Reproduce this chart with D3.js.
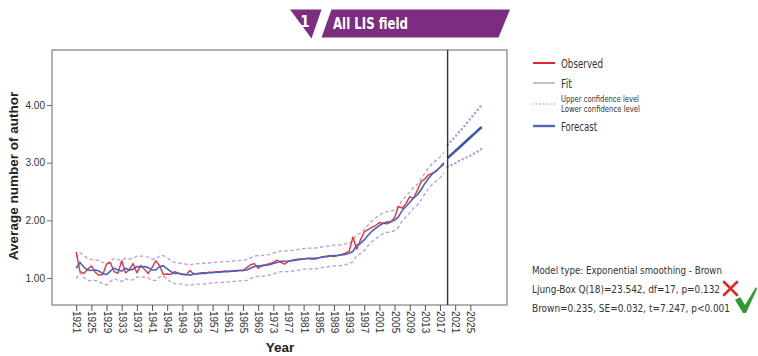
<!DOCTYPE html>
<html>
<head>
<meta charset="utf-8">
<script src="https://cdn.jsdelivr.net/npm/d3@7"></script>
<style>
  body { margin: 0; background: #fff; }
  svg { display: block; }
</style>
</head>
<body>
<svg id="chart" width="758" height="356"></svg>
<script>
// ---- Data: average number of authors per year, Brown exponential smoothing ----
const firstYear = 1921;
const observed = [
  1.45, 1.11, 1.08, 1.15, 1.21, 1.10, 1.05, 1.06, 1.24, 1.27,
  1.11, 1.08, 1.30, 1.09, 1.14, 1.25, 1.09, 1.22, 1.15, 1.08,
  1.18, 1.30, 1.21, 1.06, 1.07, 1.06, 1.11, 1.08, 1.06, 1.05,
  1.13, 1.07, 1.08, 1.09, 1.09, 1.10, 1.10, 1.11, 1.11, 1.12,
  1.12, 1.12, 1.13, 1.13, 1.13, 1.18, 1.23, 1.25, 1.17, 1.22,
  1.23, 1.25, 1.27, 1.31, 1.27, 1.24, 1.29, 1.31, 1.32, 1.33,
  1.33, 1.34, 1.33, 1.33, 1.35, 1.37, 1.38, 1.39, 1.37, 1.39,
  1.41, 1.43, 1.46, 1.71, 1.50, 1.66, 1.80, 1.84, 1.88, 1.91,
  1.96, 1.95, 1.94, 1.97, 2.05, 2.24, 2.21, 2.29, 2.41, 2.38,
  2.52, 2.67, 2.72, 2.79, 2.82, 2.85, 2.92, 2.97
];
const fit = [
  1.17, 1.27, 1.19, 1.14, 1.13, 1.14, 1.12, 1.08, 1.06, 1.12,
  1.17, 1.14, 1.12, 1.17, 1.14, 1.15, 1.20, 1.19, 1.20, 1.18,
  1.14, 1.14, 1.20, 1.21, 1.16, 1.11, 1.08, 1.08, 1.07, 1.06,
  1.05, 1.07, 1.07, 1.08, 1.08, 1.09, 1.09, 1.10, 1.10, 1.11,
  1.11, 1.12, 1.12, 1.13, 1.13, 1.14, 1.17, 1.20, 1.21, 1.21,
  1.22, 1.23, 1.25, 1.27, 1.29, 1.29, 1.29, 1.30, 1.31, 1.32,
  1.33, 1.34, 1.34, 1.34, 1.35, 1.36, 1.37, 1.38, 1.39, 1.39,
  1.40, 1.41, 1.43, 1.46, 1.57, 1.60, 1.66, 1.74, 1.81, 1.86,
  1.91, 1.95, 1.97, 1.98, 2.00, 2.06, 2.17, 2.24, 2.31, 2.39,
  2.44, 2.53, 2.64, 2.73, 2.81, 2.86, 2.92, 3.00
];
const upperFit = [
  1.35, 1.44, 1.39, 1.34, 1.32, 1.32, 1.30, 1.27, 1.25, 1.29,
  1.34, 1.32, 1.31, 1.34, 1.33, 1.34, 1.38, 1.38, 1.38, 1.36,
  1.33, 1.33, 1.38, 1.39, 1.35, 1.30, 1.27, 1.26, 1.25, 1.24,
  1.23, 1.24, 1.25, 1.25, 1.26, 1.26, 1.27, 1.27, 1.28, 1.28,
  1.29, 1.29, 1.30, 1.30, 1.31, 1.32, 1.35, 1.38, 1.39, 1.39,
  1.40, 1.41, 1.43, 1.45, 1.47, 1.47, 1.47, 1.48, 1.49, 1.50,
  1.51, 1.52, 1.52, 1.52, 1.53, 1.54, 1.55, 1.56, 1.57, 1.57,
  1.58, 1.59, 1.61, 1.64, 1.75, 1.78, 1.84, 1.92, 1.99, 2.04,
  2.09, 2.13, 2.15, 2.16, 2.18, 2.24, 2.35, 2.42, 2.49, 2.57,
  2.62, 2.71, 2.82, 2.91, 2.99, 3.04, 3.10, 3.18
];
const lowerFit = [
  0.99, 1.09, 1.01, 0.96, 0.95, 0.96, 0.94, 0.90, 0.88, 0.94,
  0.99, 0.96, 0.94, 0.99, 0.96, 0.97, 1.02, 1.01, 1.02, 1.00,
  0.96, 0.96, 1.02, 1.03, 0.98, 0.93, 0.90, 0.90, 0.89, 0.88,
  0.87, 0.89, 0.89, 0.90, 0.90, 0.91, 0.91, 0.92, 0.92, 0.93,
  0.93, 0.94, 0.94, 0.95, 0.95, 0.96, 0.99, 1.02, 1.03, 1.03,
  1.04, 1.05, 1.07, 1.09, 1.11, 1.11, 1.11, 1.12, 1.13, 1.14,
  1.15, 1.16, 1.16, 1.16, 1.17, 1.18, 1.19, 1.20, 1.21, 1.21,
  1.22, 1.23, 1.25, 1.28, 1.39, 1.42, 1.48, 1.56, 1.63, 1.68,
  1.73, 1.77, 1.79, 1.80, 1.82, 1.88, 1.99, 2.06, 2.13, 2.21,
  2.26, 2.35, 2.46, 2.55, 2.63, 2.68, 2.74, 2.82
];
const forecastStart = 2019;
const forecast      = [3.08, 3.14, 3.20, 3.26, 3.32, 3.38, 3.44, 3.50, 3.56, 3.62];
const upperForecast = [3.31, 3.38, 3.45, 3.53, 3.60, 3.68, 3.76, 3.84, 3.92, 4.00];
const lowerForecast = [2.93, 2.96, 2.99, 3.03, 3.06, 3.09, 3.12, 3.16, 3.20, 3.24];

const yTicks = [1, 2, 3, 4];
const xTicks = [1921, 1925, 1929, 1933, 1937, 1941, 1945, 1949, 1953, 1957, 1961, 1965,
                1969, 1973, 1977, 1981, 1985, 1989, 1993, 1997, 2001, 2005, 2009, 2013,
                2017, 2021, 2025];

const legendItems = [
  { key: "obs",  label: "Observed" },
  { key: "fit",  label: "Fit" },
  { key: "ci",   label: ["Upper confidence level", "Lower confidence level"] },
  { key: "fc",   label: "Forecast" }
];
const modelLines = [
  "Model type: Exponential smoothing - Brown",
  "Ljung-Box Q(18)=23.542, df=17, p=0.132",
  "Brown=0.235, SE=0.032, t=7.247, p<0.001"
];
const bannerNumber = "1";
const bannerTitle = "All LIS field";

// ---- Layout ----
const svg = d3.select("#chart");
const plot = { left: 52, right: 507, top: 50, bottom: 305 };
const narrow = "'Liberation Sans Narrow', 'Arial Narrow', 'DejaVu Sans Condensed', sans-serif";
const sans = "'Liberation Sans', Arial, sans-serif";

const x = d3.scaleLinear().domain([1914.61, 2034.67]).range([plot.left, plot.right]);
const y = d3.scaleLinear().domain([0.532, 4.954]).range([plot.bottom, plot.top]);

const col = {
  obs: "#e8323c",
  fit: "#4a62bd",
  ci: "#b89be0",
  fc: "#3d56ad",
  frame: "#8a8a8a"
};

// Text that must fit a given width
function fitText(sel, width) {
  return sel.attr("textLength", width).attr("lengthAdjust", "spacingAndGlyphs");
}

// ---- Banner ----
const banner = svg.append("g");
banner.append("path")
  .attr("d", "M290,9.5 L321.5,9.5 L311.5,38.5 Z")
  .attr("fill", "#7d2d80");
banner.append("path")
  .attr("d", "M321.5,37.5 L331.5,9.5 L510,9.5 L498.5,37.5 Z")
  .attr("fill", "#7d2d80");
banner.append("text")
  .attr("x", 305).attr("y", 27)
  .attr("text-anchor", "middle")
  .attr("font-family", narrow).attr("font-weight", "bold").attr("font-size", 15)
  .attr("fill", "#fff").text(bannerNumber);
fitText(banner.append("text")
  .attr("x", 333).attr("y", 29)
  .attr("font-family", narrow).attr("font-weight", "bold").attr("font-size", 16)
  .attr("fill", "#fff").text(bannerTitle), 75);

// ---- Plot frame ----
svg.append("rect")
  .attr("x", plot.left).attr("y", plot.top)
  .attr("width", plot.right - plot.left).attr("height", plot.bottom - plot.top)
  .attr("fill", "none").attr("stroke", col.frame).attr("stroke-width", 1.3);

// ---- Axes ----
const yAxis = d3.axisLeft(y).tickValues(yTicks).tickFormat(d3.format(".2f")).tickSize(5).tickPadding(2);
const gy = svg.append("g").attr("transform", `translate(${plot.left},0)`).call(yAxis);
gy.select(".domain").remove();
gy.selectAll("line").attr("stroke", "#666");
gy.selectAll("text").attr("font-family", sans).attr("font-size", 10).attr("fill", "#333");

const xAxis = d3.axisBottom(x).tickValues(xTicks).tickFormat(d3.format("d")).tickSize(6);
const gx = svg.append("g").attr("transform", `translate(0,${plot.bottom})`).call(xAxis);
gx.select(".domain").remove();
gx.selectAll("line").attr("stroke", "#555");
gx.selectAll("text")
  .attr("font-family", sans).attr("font-size", 10).attr("fill", "#333")
  .attr("transform", "rotate(90)")
  .attr("text-anchor", "start")
  .attr("x", 6).attr("y", 0).attr("dy", "0.35em");

// Axis titles
svg.append("text")
  .attr("transform", "translate(18,176) rotate(-90)")
  .attr("text-anchor", "middle")
  .attr("font-family", sans).attr("font-weight", "bold").attr("font-size", 13.5)
  .attr("fill", "#222").text("Average number of author");
svg.append("text")
  .attr("x", 280).attr("y", 352)
  .attr("text-anchor", "middle")
  .attr("font-family", sans).attr("font-weight", "bold").attr("font-size", 13.5)
  .attr("fill", "#222").text("Year");

// ---- Series ----
const hist = observed.map((v, i) => ({ year: firstYear + i, obs: v, fit: fit[i], up: upperFit[i], lo: lowerFit[i] }));
const fut = forecast.map((v, i) => ({ year: forecastStart + i, fc: v, up: upperForecast[i], lo: lowerForecast[i] }));

const lineOf = key => d3.line().x(d => x(d.year)).y(d => y(d[key]));

const series = svg.append("g");
series.append("path").datum(hist).attr("d", lineOf("up"))
  .attr("fill", "none").attr("stroke", col.ci).attr("stroke-width", 1.3).attr("stroke-dasharray", "3.5,2.5");
series.append("path").datum(hist).attr("d", lineOf("lo"))
  .attr("fill", "none").attr("stroke", col.ci).attr("stroke-width", 1.3).attr("stroke-dasharray", "3.5,2.5");
series.append("path").datum(hist).attr("d", lineOf("obs"))
  .attr("fill", "none").attr("stroke", col.obs).attr("stroke-width", 1.4).attr("stroke-linejoin", "round");
series.append("path").datum(hist).attr("d", lineOf("fit"))
  .attr("fill", "none").attr("stroke", col.fit).attr("stroke-width", 1.6).attr("stroke-linejoin", "round");

series.append("path").datum(fut).attr("d", lineOf("up"))
  .attr("fill", "none").attr("stroke", col.ci).attr("stroke-width", 2.6)
  .attr("stroke-dasharray", "0,4.2").attr("stroke-linecap", "round");
series.append("path").datum(fut).attr("d", lineOf("lo"))
  .attr("fill", "none").attr("stroke", col.ci).attr("stroke-width", 2.6)
  .attr("stroke-dasharray", "0,4.2").attr("stroke-linecap", "round");
series.append("path").datum(fut).attr("d", lineOf("fc"))
  .attr("fill", "none").attr("stroke", col.fc).attr("stroke-width", 2.6);

// Forecast origin marker
svg.append("line")
  .attr("x1", x(forecastStart)).attr("x2", x(forecastStart))
  .attr("y1", plot.top).attr("y2", plot.bottom)
  .attr("stroke", "#333").attr("stroke-width", 1.4);

// ---- Legend ----
const legend = svg.append("g").attr("transform", "translate(533,0)");
const legendY = [63, 83, 104, 126];
const legendW = [42, 11, [78, 79], 36];
legendItems.forEach((item, i) => {
  const ly = legendY[i];
  const sw = legend.append("line").attr("x1", 0).attr("x2", 22).attr("y1", ly).attr("y2", ly);
  if (item.key === "obs") sw.attr("stroke", "#d9262e").attr("stroke-width", 2);
  if (item.key === "fit") sw.attr("stroke", "#9eabd2").attr("stroke-width", 1.4);
  if (item.key === "ci") sw.attr("stroke", "#b896e4").attr("stroke-width", 1.6)
    .attr("stroke-dasharray", "0,3.6").attr("stroke-linecap", "round");
  if (item.key === "fc") sw.attr("stroke", "#4d66b3").attr("stroke-width", 2.4);
  if (Array.isArray(item.label)) {
    item.label.forEach((t, j) => {
      fitText(legend.append("text").attr("x", 28).attr("y", ly - 2 + j * 10)
        .attr("font-family", narrow).attr("font-size", 9.5).attr("fill", "#333").text(t), legendW[i][j]);
    });
  } else {
    fitText(legend.append("text").attr("x", 28).attr("y", ly + 4.5)
      .attr("font-family", narrow).attr("font-size", 13).attr("fill", "#333").text(item.label), legendW[i]);
  }
});

// ---- Model summary ----
const summary = svg.append("g");
const summaryY = [274, 293, 312];
const summaryW = [190, 188, 198];
modelLines.forEach((t, i) => {
  fitText(summary.append("text").attr("x", 532).attr("y", summaryY[i])
    .attr("font-family", narrow).attr("font-size", 11).attr("fill", "#333")
    .text(t), summaryW[i]);
});
// red cross after the Ljung-Box line
summary.append("path")
  .attr("d", "M724,282 L737,295 M737,282 L724,295")
  .attr("stroke", "#e02a2a").attr("stroke-width", 2.6).attr("stroke-linecap", "round").attr("fill", "none");
// green tick after the parameter line
summary.append("path")
  .attr("d", "M735,300 L740,297 L745,305 L756,287 L757,289 L746,313 L743,313 Z")
  .attr("fill", "#2f9a2f");
</script>
</body>
</html>
